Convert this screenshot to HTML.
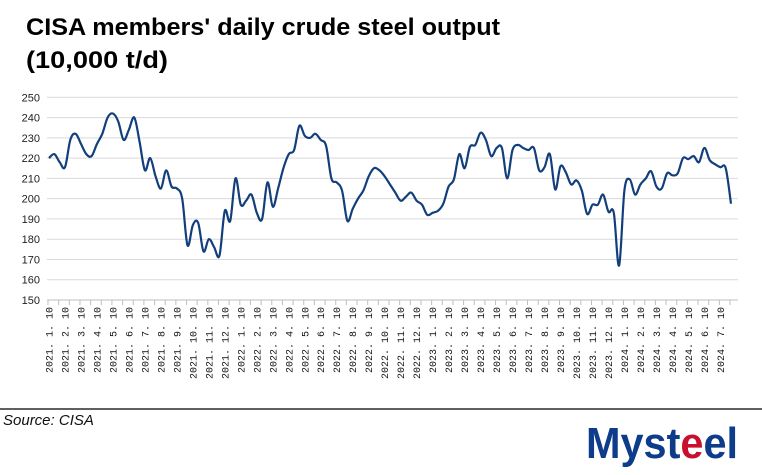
<!DOCTYPE html>
<html><head><meta charset="utf-8"><style>
body{margin:0;background:#fff;}
svg{display:block;font-family:"Liberation Sans",Arial,sans-serif;}
</style></head><body>
<svg id="chart" width="762" height="475" viewBox="0 0 762 475">
<text x="26" y="35" font-size="24" font-weight="bold" textLength="474" lengthAdjust="spacingAndGlyphs">CISA members' daily crude steel output</text>
<text x="26" y="68" font-size="24" font-weight="bold" textLength="142" lengthAdjust="spacingAndGlyphs">(10,000 t/d)</text>
<g id="grid"></g>
<g id="yaxis"></g>
<g id="xaxis"></g>
<path id="line" fill="none" stroke="#123f7c" stroke-width="2.2" stroke-linejoin="round"/>
<line x1="0" y1="409" x2="762" y2="409" stroke="#000" stroke-width="1.2"/>
<text x="3" y="425" font-size="15" font-style="italic" fill="#111">Source: CISA</text>
<text x="586" y="458" font-size="44" font-weight="bold" fill="#0d3c8a" textLength="152" lengthAdjust="spacingAndGlyphs">Myst<tspan fill="#c8102e">e</tspan>el</text>
</svg>
<script>
const labels=["2021. 1. 10","2021. 2. 10","2021. 3. 10","2021. 4. 10","2021. 5. 10","2021. 6. 10","2021. 7. 10","2021. 8. 10","2021. 9. 10","2021. 10. 10","2021. 11. 10","2021. 12. 10","2022. 1. 10","2022. 2. 10","2022. 3. 10","2022. 4. 10","2022. 5. 10","2022. 6. 10","2022. 7. 10","2022. 8. 10","2022. 9. 10","2022. 10. 10","2022. 11. 10","2022. 12. 10","2023. 1. 10","2023. 2. 10","2023. 3. 10","2023. 4. 10","2023. 5. 10","2023. 6. 10","2023. 7. 10","2023. 8. 10","2023. 9. 10","2023. 10. 10","2023. 11. 10","2023. 12. 10","2024. 1. 10","2024. 2. 10","2024. 3. 10","2024. 4. 10","2024. 5. 10","2024. 6. 10","2024. 7. 10"];
const values=[220,222,218,215.5,229,232,227,222,221,227,232,240,242,238,229,234,240,228,214,220,211,205,214,206,205,200,177,187,188,174,180,176,172,194,189,210,197,199,202,193,190,208,196,205,215,222,224,236,231,230,232,229,226,210,208,204,189,195,200,204,211,215,214,211,207,203,199,201,203,199,197,192,193,194,197.5,206,209.5,222,215,225.5,226.5,232.5,229,221,225,225,210,224,226.5,225,224,225,214,215.5,222,204.5,216,213,207,209,204,192.5,197,197,202,193.5,193,167,204,209.5,202,207,210,213.5,206,205,212.5,211.5,212.5,220,219.5,221,218,225,219,217,215.5,215,197.5];
const yTicks=[150,160,170,180,190,200,210,220,230,240,250];
const NS="http://www.w3.org/2000/svg";
const X0=49,X1=731,Y0=300,Y1=97.3;
const xs=i=>X0+(X1-X0)*i/(values.length-1);
const ys=v=>Y0-(v-150)/100*(Y0-Y1);
function mk(t,a,p){const e=document.createElementNS(NS,t);for(const k in a)e.setAttribute(k,a[k]);p.appendChild(e);return e;}
const grid=document.getElementById('grid'),ya=document.getElementById('yaxis'),xa=document.getElementById('xaxis');
yTicks.forEach(v=>{
 if(v>150){const g=mk('line',{x1:47,x2:738,y1:ys(v),y2:ys(v),stroke:'#d9d9d9','stroke-width':1},grid);
 
 }
 const t=mk('text',{x:40,y:ys(v)+4,'font-size':11,'text-anchor':'end',fill:'#222'},ya);
 t.textContent=v;
 
 
});
const ax=mk('line',{x1:47,x2:738,y1:Y0,y2:Y0,stroke:'#bfbfbf','stroke-width':1},xa);


for(let i=0;i<values.length;i+=2){
 const tk=mk('line',{x1:xs(i)-1,x2:xs(i)-1,y1:Y0,y2:Y0+5,stroke:'#bfbfbf'},xa);
 
 
}
labels.forEach((l,k)=>{
 const x=xs(k*3)+3.5;
 const t=mk('text',{transform:`translate(${x},307) rotate(-90)`,'font-size':10,'text-anchor':'end','font-family':'"Liberation Mono",monospace',fill:'#111'},xa);
 t.textContent=l;
 
 
});
const P=values.map((v,i)=>[xs(i),ys(v)]);
let d='M'+P[0][0].toFixed(1)+','+P[0][1].toFixed(1);
const T=0.17;
for(let i=0;i<P.length-1;i++){
 const p0=P[Math.max(0,i-1)],p1=P[i],p2=P[i+1],p3=P[Math.min(P.length-1,i+2)];
 const c1=[p1[0]+(p2[0]-p0[0])*T,p1[1]+(p2[1]-p0[1])*T];
 const c2=[p2[0]-(p3[0]-p1[0])*T,p2[1]-(p3[1]-p1[1])*T];
 d+='C'+c1.map(n=>n.toFixed(1)).join(',')+' '+c2.map(n=>n.toFixed(1)).join(',')+' '+p2[0].toFixed(1)+','+p2[1].toFixed(1);
}
document.getElementById('line').setAttribute('d',d);
</script>
</body></html>
